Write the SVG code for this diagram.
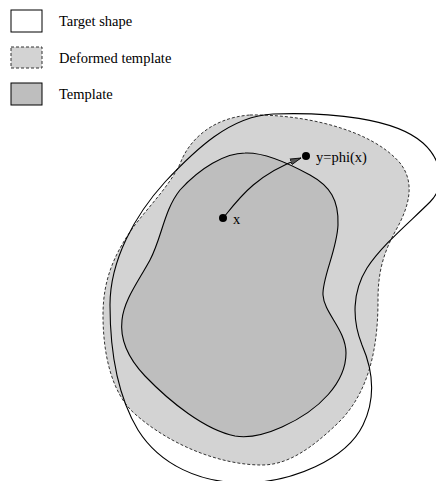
<svg xmlns="http://www.w3.org/2000/svg" width="436" height="481" viewBox="0 0 436 481">
<style>
text{font-family:"Liberation Serif","Times New Roman",serif;font-size:14.5px;fill:#000}
.target{fill:none;stroke:#000;stroke-width:1.1}
.deformed{fill:#d3d3d3;stroke:#333;stroke-width:1;stroke-dasharray:3 2}
.template{fill:#bebebe;stroke:#000;stroke-width:1.1}
.dot{fill:#000}
</style>
<defs>
<marker id="ah" markerWidth="12" markerHeight="8" refX="11" refY="4" orient="auto" markerUnits="userSpaceOnUse">
<path d="M0,1 L11,4 L0,7 Z" fill="#555" stroke="#000" stroke-width="0.8"/>
</marker>
</defs>
<rect width="436" height="481" fill="#fff"/>
<g id="legend">
<g id="legend-target"><rect x="11" y="10" width="31" height="22" fill="#fff" stroke="#000" stroke-width="1"/><text x="59" y="26">Target shape</text></g>
<g id="legend-deformed"><rect x="11" y="47" width="31" height="21" class="deformed"/><text x="59" y="63">Deformed template</text></g>
<g id="legend-template"><rect x="11" y="83" width="31" height="22" fill="#bebebe" stroke="#000" stroke-width="1"/><text x="59" y="99">Template</text></g>
</g>
<g id="deformed-template">
<path class="deformed" d="M250,115 C 300,114 370,128 400,163 C 415,182 410,205 396,230 C 382,255 378,275 378,300 C 378,340 372,390 338,423 C 312,448 288,465 262,465 C 220,465 170,445 135,414 C 110,392 103,350 103,315 C 103,280 114,255 132,229 C 148,207 168,188 180,164 C 188,142 210,118 250,115 Z"/>
</g>
<g id="template">
<path class="template" d="M245,153 C 265,152 290,164 310,175 C 330,186 339,200 338,225 C 337,250 322,278 323,295 C 324,313 346,330 346,353 C 346,382 320,410 282,427 C 262,436 247,438 235,436 C 205,430 170,402 145,376 C 126,356 120,337 122,320 C 124,300 138,282 150,260 C 162,237 164,210 180,190 C 200,168 225,153 245,153 Z"/>
</g>
<g id="target-shape">
<path class="target" d="M273,114 C 330,112 395,118 423,143 C 442,160 446,186 430,202 C 410,222 382,245 367,268 C 352,292 352,320 362,345 C 372,368 377,396 363,425 C 346,460 292,482 245,483 C 200,483 160,465 138,430 C 117,395 110,350 110,305 C 110,260 135,215 165,182 C 195,150 230,116 273,114 Z"/>
</g>
<g id="point-x"><circle class="dot" cx="223" cy="218" r="4"/><text x="233" y="224">x</text></g>
<g id="point-y"><circle class="dot" cx="306" cy="156" r="4"/><text x="316" y="162">y=phi(x)</text></g>
<g id="connectors">
<path d="M224,217 C 240,197 256,175 301,158" fill="none" stroke="#000" stroke-width="1.1" marker-end="url(#ah)"/>
</g>
</svg>
